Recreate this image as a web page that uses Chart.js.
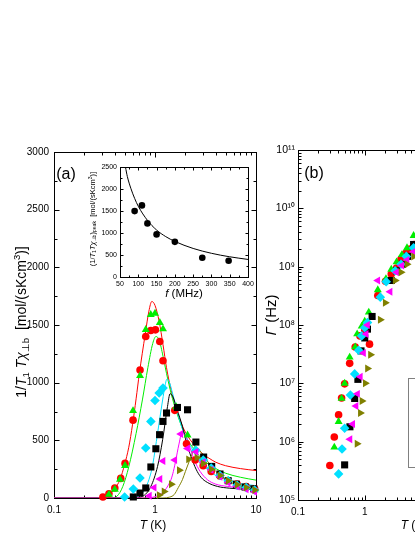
<!DOCTYPE html>
<html>
<head>
<meta charset="utf-8">
<script src="https://cdn.jsdelivr.net/npm/chart.js@4"></script>
<style>
  html, body { margin: 0; padding: 0; background: #fff; overflow: hidden; }
  #wrap { position: relative; width: 415px; height: 537px; overflow: hidden; }
  canvas { position: absolute; }
  #cb { left: 262px; top: 0; }
  #ca { left: 0; top: 0; }
  #ci { left: 85px; top: 160px; }
</style>
</head>
<body>
<div id="wrap">
  <canvas id="cb" width="290" height="537"></canvas>
  <canvas id="ca" width="268" height="537"></canvas>
  <canvas id="ci" width="175" height="140"></canvas>
</div>
<script>
/* panel (a): 1/T1Tχ vs T, with fits; panel (b): Γ vs T; inset: peak value vs f */

// tick labels
const aTicksX = [0.1, 1, 10];
const aTicksY = [0, 500, 1000, 1500, 2000, 2500, 3000];
const bTicksX = [0.1, 1, 10, 100];
const bTicksY = [1e5, 1e6, 1e7, 1e8, 1e9, 1e10, 1e11];
const iTicksX = [50, 100, 150, 200, 250, 300, 350, 400];
const iTicksY = [0, 500, 1000, 1500, 2000, 2500];

// panel (a) measured points [T (K), value]
const aRed = [[0.305, 9], [0.35, 37], [0.40, 87], [0.458, 170], [0.505, 300], [0.606, 675], [0.711, 1110],
  [0.81, 1400], [0.908, 1452], [1.01, 1458], [1.116, 1357], [1.2, 1190], [1.57, 760], [2.05, 470],
  [2.5, 330], [3.0, 280], [3.6, 230], [4.4, 190], [5.3, 150], [6.5, 120], [8, 100], [9.7, 80]];
const aGreen = [[0.35, 30], [0.40, 75], [0.45, 160], [0.505, 280], [0.606, 756], [0.711, 1060], [0.81, 1460],
  [0.908, 1590], [1.0, 1600], [1.116, 1520], [1.2, 1465], [1.62, 790], [2.1, 545], [2.5, 420], [3.0, 320],
  [3.6, 260], [4.4, 200], [5.3, 150], [6.5, 110], [8, 90], [9.7, 70]];
const aCyan = [[0.5, 9], [0.61, 78], [0.71, 173], [0.81, 433], [0.91, 664], [1.0, 846], [1.1, 910], [1.2, 953],
  [2.54, 413], [3.0, 330], [3.6, 260], [4.4, 195], [5.3, 150], [6.5, 110], [8, 90], [9.7, 70]];
const aBlack = [[0.61, 9], [0.71, 43], [0.81, 87], [0.91, 269], [1.02, 427], [1.11, 549], [1.2, 664], [1.3, 737],
  [1.67, 785], [2.1, 765], [2.54, 485], [3.03, 355], [3.64, 274], [4.4, 208], [5.3, 150], [6.4, 120],
  [7.8, 95], [9.5, 80]];
const aMagenta = [[0.88, 20], [0.98, 90], [1.12, 165], [1.2, 320], [1.57, 330], [1.8, 555], [2.1, 430],
  [2.55, 400], [3.0, 310], [3.6, 245], [4.4, 185], [5.3, 135], [6.5, 100], [8, 75], [9.7, 55]];
const aOlive = [[1.1, 25], [1.23, 57], [1.45, 120], [1.74, 240], [2.15, 335], [2.6, 350], [3.0, 300],
  [3.6, 250], [4.4, 195], [5.3, 150], [6.5, 115], [8, 90], [9.7, 70]];

// panel (a) fit curves
const aRedFit = [[0.1, 0], [0.2, 0], [0.25, 2], [0.3, 8], [0.35, 30], [0.4, 80], [0.45, 160], [0.5, 290],
  [0.55, 440], [0.6, 640], [0.65, 860], [0.7, 1080], [0.8, 1420], [0.87, 1620], [0.93, 1704], [1.0, 1670],
  [1.1, 1530], [1.2, 1330], [1.3, 1130], [1.45, 930], [1.6, 790], [1.8, 660], [2.0, 570], [2.5, 450],
  [3.0, 380], [3.5, 340], [4, 310], [5, 280], [7, 255], [10, 238]];
const aGreenFit = [[0.1, 0], [0.3, 0], [0.38, 3], [0.42, 15], [0.48, 100], [0.55, 270], [0.65, 560],
  [0.75, 850], [0.85, 1130], [0.95, 1340], [1.02, 1400], [1.1, 1370], [1.2, 1230], [1.3, 1080], [1.45, 900],
  [1.6, 770], [1.8, 640], [2.0, 540], [2.5, 410], [3.0, 330], [4, 255], [5, 215], [7, 180], [10, 155]];
const aCyanFit = [[0.1, 0], [0.5, 0], [0.6, 4], [0.7, 20], [0.8, 80], [0.9, 200], [0.95, 290], [1.06, 560],
  [1.19, 850], [1.25, 960], [1.31, 1030], [1.38, 1010], [1.5, 900], [1.67, 740], [1.85, 610], [2.1, 500],
  [2.5, 380], [2.85, 305], [3.5, 230], [4.2, 185], [5.25, 155], [7, 125], [10, 107]];
const aBlackFit = [[0.1, 0], [0.6, 0], [0.75, 14], [0.91, 100], [1.06, 274], [1.19, 505], [1.33, 794],
  [1.41, 904], [1.5, 880], [1.65, 770], [1.87, 620], [2.05, 480], [2.27, 360], [2.55, 250], [2.85, 180],
  [3.3, 135], [4.17, 100], [5.5, 85], [7, 78], [10, 72]];
const aMagentaFit = [[0.1, 0], [0.85, 0], [0.98, 9], [1.1, 25], [1.23, 57], [1.35, 110], [1.44, 159],
  [1.52, 230], [1.61, 332], [1.72, 460], [1.85, 563], [1.95, 550], [2.1, 500], [2.27, 410], [2.44, 332],
  [2.8, 230], [3.3, 159], [4, 120], [5.25, 100], [7, 88], [10, 78]];
const aOliveFit = [[0.1, 0], [1.2, 0], [1.4, 8], [1.55, 30], [1.7, 90], [1.87, 160], [2.0, 230], [2.18, 317],
  [2.35, 390], [2.54, 430], [2.75, 415], [3.0, 370], [3.5, 290], [4, 230], [5, 160], [6, 125], [8, 95], [10, 80]];

// inset: f (MHz) vs peak value
const insetF = [90, 110, 125, 150, 200, 275, 347];
const insetPeak = [1500, 1630, 1220, 970, 800, 440, 370];
const insetFitF = [65, 70, 80, 90, 100, 125, 150, 175, 200, 250, 300, 350, 400];
const insetFitV = [2500, 2290, 2010, 1790, 1610, 1290, 1070, 920, 810, 650, 540, 460, 400];

// panel (b) Γ (Hz) vs T (K)
const bRed = [[0.3, 3.9e5], [0.35, 1.2e6], [0.406, 2.9e6], [0.45, 5.6e6], [0.5, 9.8e6], [0.595, 2.2e7],
  [0.72, 4.2e7], [0.85, 6.5e7], [1.0, 8e7], [1.18, 4.7e7], [1.57, 3.2e8], [2.05, 5.6e8], [2.5, 7.5e8],
  [3.0, 9.5e8], [3.5, 1.35e9], [4.1, 1.7e9], [4.8, 2.0e9], [5.5, 2.4e9]];
const bGreen = [[0.35, 8e5], [0.406, 2.2e6], [0.45, 5.5e6], [0.5, 1e7], [0.595, 2.8e7], [0.72, 4.2e7],
  [0.77, 7e7], [0.9, 9.5e7], [1.0, 1.15e8], [1.15, 1.65e8], [1.57, 4e8], [2.08, 6.2e8], [2.5, 9e8],
  [3.0, 1.2e9], [3.6, 1.6e9], [4.3, 2.1e9], [5.4, 3.4e9]];
const bCyan = [[0.406, 2.8e5], [0.457, 7.5e5], [0.5, 1.7e6], [0.61, 6.3e6], [0.707, 1.45e7], [0.81, 3.7e7],
  [0.9, 6.5e7], [1.0, 9e7], [1.1, 1.1e8], [1.71, 3e8], [2.1, 5.5e8], [2.86, 8.5e8], [3.5, 1.1e9],
  [4.2, 1.5e9], [5.4, 2.1e9]];
const bBlack = [[0.5, 4e5], [0.6, 1.8e6], [0.707, 5.5e6], [0.79, 1.17e7], [0.88, 3.6e7], [1.0, 6e7],
  [1.1, 8.5e7], [1.29, 1.4e8], [2.5, 5.8e8], [3.0, 8.5e8], [3.7, 1.1e9], [4.4, 1.5e9], [5.4, 2.4e9]];
const bMagenta = [[0.6, 1.1e6], [0.66, 2.0e6], [0.74, 4.1e6], [0.78, 6.6e6], [0.86, 1.3e7], [0.96, 3.3e7],
  [1.05, 7e7], [1.1, 1e8], [1.57, 5.8e8], [2.4, 3.7e8], [3.0, 8e8], [3.6, 1.05e9], [4.3, 1.3e9], [5.4, 1.8e9]];
const bOlive = [[0.767, 9.2e5], [0.86, 3.1e6], [0.91, 5e6], [1.02, 1e7], [1.1, 1.8e7], [1.22, 3.1e7],
  [1.71, 1.23e8], [2.03, 2.4e8], [2.86, 5.8e8], [3.5, 8e8], [4.3, 1.1e9], [5.4, 1.5e9]];

const FONT = '"Liberation Sans", Arial, sans-serif';
const RED = '#ff0000', GREEN = '#00ee00', CYAN = '#00e0ff', BLACK = '#000000', MAGENTA = '#ff00ff', OLIVE = '#808000';

Chart.defaults.font.family = FONT;
Chart.defaults.color = '#000';

const pts = arr => arr.map(([x, y]) => ({ x, y }));
const zip = (xs, ys) => xs.map((x, i) => ({ x, y: ys[i] }));

function mark(data, color, style, r, rot) {
  return {
    data, pointStyle: style, pointRadius: r, pointRotation: rot || 0,
    pointBackgroundColor: color, pointBorderColor: color, pointBorderWidth: 0,
    showLine: false, clip: false
  };
}
function fit(data, color) {
  return {
    data, showLine: true, borderColor: color, borderWidth: 1, pointRadius: 0,
    cubicInterpolationMode: 'monotone', fill: false
  };
}

const SUP = { '0': '⁰', '1': '¹', '2': '²', '3': '³', '4': '⁴', '5': '⁵', '6': '⁶', '7': '⁷', '8': '⁸', '9': '⁹' };
const plainLabel = v => String(v);
const decadeLabel = v => String(+v.toPrecision(2));
const powLabel = v => '10' + String(Math.round(Math.log10(v))).split('').map(c => SUP[c]).join('');

function axis(type, min, max, ticks, fmt, size, horiz, fontSize, pad) {
  return {
    type, min, max,
    grid: { display: false, drawTicks: false },
    border: { display: false },
    ticks: { autoSkip: false, maxRotation: 0, padding: pad, font: { size: fontSize }, color: '#000', callback: fmt },
    afterBuildTicks: s => { s.ticks = ticks.map(value => ({ value })); },
    afterFit: s => { if (horiz) s.height = size; else s.width = size; }
  };
}

// frame with inward ticks on all four sides
function frameTicks(major, minor) {
  return {
    id: 'frameTicks',
    beforeDatasetsDraw(chart) {
      const { ctx, chartArea: a, scales: { x, y } } = chart;
      const p = v => Math.round(v) + 0.5;
      const marks = s => {
        const vals = s.ticks.map(t => t.value);
        const out = vals.map(v => [v, major]);
        for (let i = 0; i + 1 < vals.length; i++) {
          if (s.type === 'logarithmic') for (let k = 2; k < 10; k++) out.push([vals[i] * k, minor]);
          else out.push([(vals[i] + vals[i + 1]) / 2, minor]);
        }
        return out;
      };
      const L = p(a.left), R = p(a.right), T = p(a.top), B = p(a.bottom);
      ctx.save();
      ctx.strokeStyle = '#000';
      ctx.lineWidth = 1;
      ctx.strokeRect(L, T, R - L, B - T);
      ctx.beginPath();
      marks(x).forEach(([v, len]) => {
        const px = p(x.getPixelForValue(v));
        ctx.moveTo(px, B); ctx.lineTo(px, B - len);
        ctx.moveTo(px, T); ctx.lineTo(px, T + len);
      });
      marks(y).forEach(([v, len]) => {
        const py = p(y.getPixelForValue(v));
        ctx.moveTo(L, py); ctx.lineTo(L + len, py);
        ctx.moveTo(R, py); ctx.lineTo(R - len, py);
      });
      ctx.stroke();
      ctx.restore();
    }
  };
}

// text with italic / subscript / superscript pieces: i = italic, b = sub, p = sup
function rich(ctx, parts, cx, cy, size, angle) {
  const fontOf = k => (k.includes('i') ? 'italic ' : '') + (/[bp]/.test(k) ? size * 0.68 : size) + 'px ' + FONT;
  ctx.save();
  ctx.translate(cx, cy);
  ctx.rotate(angle || 0);
  ctx.fillStyle = '#000';
  ctx.textBaseline = 'alphabetic';
  ctx.textAlign = 'left';
  let w = 0;
  parts.forEach(([t, k]) => { ctx.font = fontOf(k); w += ctx.measureText(t).width; });
  let x = -w / 2;
  const base = size * 0.36;
  parts.forEach(([t, k]) => {
    ctx.font = fontOf(k);
    const dy = k.includes('b') ? size * 0.22 : k.includes('p') ? -size * 0.4 : 0;
    ctx.fillText(t, x, base + dy);
    x += ctx.measureText(t).width;
  });
  ctx.restore();
}

const textA = {
  id: 'textA',
  afterDraw(chart) {
    const { ctx, chartArea: a } = chart;
    const midY = (a.top + a.bottom) / 2;
    rich(ctx, [['1/', ''], ['T', 'i'], ['1', 'b'], [' ', ''], ['T', 'i'], ['χ', 'i'], ['⊥b', 'b'],
      ['  [mol/(sKcm', ''], ['3', 'p'], [')]', '']], a.left - 33, midY - 3, 14, -Math.PI / 2);
    rich(ctx, [['T', 'i'], [' (K)', '']], (a.left + a.right) / 2 - 2, a.bottom + 27, 12);
    rich(ctx, [['(a)', '']], a.left + 12, a.top + 21, 16);
  }
};

const textB = {
  id: 'textB',
  afterDraw(chart) {
    const { ctx, chartArea: a } = chart;
    rich(ctx, [['Γ', 'i'], [' (Hz)', '']], a.left - 27, (a.top + a.bottom) / 2 - 10, 15, -Math.PI / 2);
    rich(ctx, [['T', 'i'], [' (K)', '']], (a.left + a.right) / 2, a.bottom + 25, 12);
    rich(ctx, [['(b)', '']], a.left + 16, a.top + 22, 16);
    // legend box (its contents lie outside the cropped view)
    ctx.save();
    ctx.strokeStyle = '#808080';
    ctx.lineWidth = 1;
    const bx = Math.round(a.left + 0.475 * a.width) + 0.5;
    const by = Math.round(a.top + 0.65 * a.height) + 0.5;
    const bb = Math.round(a.top + 0.905 * a.height) + 0.5;
    ctx.strokeRect(bx, by, a.right - 8 - bx, bb - by);
    ctx.restore();
  }
};

const textI = {
  id: 'textI',
  afterDraw(chart) {
    const { ctx, chartArea: a } = chart;
    rich(ctx, [['f', 'i'], [' (MHz)', '']], (a.left + a.right) / 2, a.bottom + 16, 11.5);
    rich(ctx, [['(1/', ''], ['T', 'i'], ['1', 'b'], ['T', 'i'], ['χ', 'i'], ['⊥b', 'b'], [')', ''], ['peak', 'b'],
      ['  [mol/(sKcm', ''], ['3', 'p'], [')]', '']], 7, (a.top + a.bottom) / 2 - 3, 7.5, -Math.PI / 2);
  }
};

const baseOpts = (padding, scales) => ({
  responsive: false, animation: false, events: [],
  layout: { padding },
  plugins: { legend: { display: false }, tooltip: { enabled: false } },
  scales
});

new Chart(document.getElementById('ca'), {
  type: 'scatter',
  data: {
    datasets: [
      mark(pts(aOlive), OLIVE, 'triangle', 4.6, 90),
      mark(pts(aMagenta), MAGENTA, 'triangle', 4.6, -90),
      mark(pts(aCyan), CYAN, 'rectRot', 4.8),
      mark(pts(aBlack), BLACK, 'rect', 5),
      mark(pts(aGreen), GREEN, 'triangle', 4.6),
      mark(pts(aRed), RED, 'circle', 3.8),
      fit(pts(aMagentaFit), MAGENTA),
      fit(pts(aOliveFit), OLIVE),
      fit(pts(aBlackFit), BLACK),
      fit(pts(aCyanFit), CYAN),
      fit(pts(aGreenFit), GREEN),
      fit(pts(aRedFit), RED)
    ]
  },
  options: baseOpts({ top: 152, right: 12, left: 0, bottom: 0 }, {
    x: axis('logarithmic', 0.1, 10, aTicksX, decadeLabel, 39, true, 10, 6),
    y: axis('linear', 0, 3000, aTicksY, plainLabel, 54, false, 10, 5)
  }),
  plugins: [frameTicks(5, 3), textA]
});

new Chart(document.getElementById('cb'), {
  type: 'scatter',
  data: {
    datasets: [
      mark(pts(bOlive), OLIVE, 'triangle', 4.6, 90),
      mark(pts(bMagenta), MAGENTA, 'triangle', 4.6, -90),
      mark(pts(bCyan), CYAN, 'rectRot', 4.8),
      mark(pts(bBlack), BLACK, 'rect', 5),
      mark(pts(bGreen), GREEN, 'triangle', 4.6),
      mark(pts(bRed), RED, 'circle', 3.8)
    ]
  },
  options: baseOpts({ top: 150, right: 22, left: 0, bottom: 0 }, {
    x: axis('logarithmic', 0.1, 300, bTicksX, decadeLabel, 37, true, 10, 6),
    y: axis('logarithmic', 1e5, 1e11, bTicksY, powLabel, 36, false, 10.5, 3)
  }),
  plugins: [frameTicks(5, 3), textB]
});

new Chart(document.getElementById('ci'), {
  type: 'scatter',
  data: {
    datasets: [
      mark(zip(insetF, insetPeak), BLACK, 'circle', 3.3),
      fit(zip(insetFitF, insetFitV), BLACK)
    ]
  },
  options: baseOpts({ top: 6, right: 12, left: 0, bottom: 0 }, {
    x: axis('linear', 50, 400, iTicksX, plainLabel, 23, true, 7, 3),
    y: axis('linear', 0, 2500, iTicksY, plainLabel, 35, false, 7, 3)
  }),
  plugins: [frameTicks(3, 2), textI]
});
</script>
</body>
</html>
